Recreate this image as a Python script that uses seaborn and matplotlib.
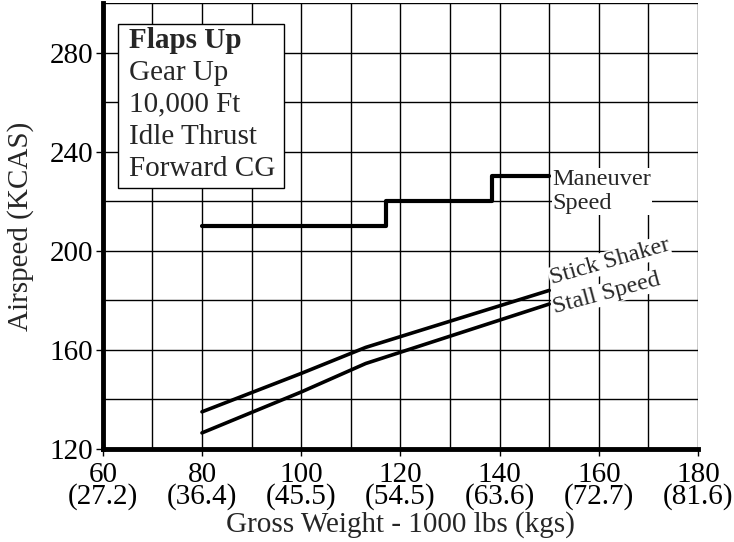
import numpy as np
import pandas as pd
import matplotlib
matplotlib.use("Agg")
from matplotlib import pyplot as plt
from matplotlib.patches import Rectangle
import seaborn as sns

# Chart data
maneuver_x = [80, 117, 138.5, 150]
maneuver_y = [210, 220, 230, 230]

shaker_x = [80, 100, 113, 150]
shaker_y = [135, 150.5, 161, 184]

stall_x = [80, 100, 113, 150]
stall_y = [126.5, 143, 154.5, 178.5]

x_ticks = [60, 80, 100, 120, 140, 160, 180]
x_kgs = ['27.2', '36.4', '45.5', '54.5', '63.6', '72.7', '81.6']
y_ticks = [120, 160, 200, 240, 280]

box_lines = ['Flaps Up', 'Gear Up', '10,000 Ft', 'Idle Thrust', 'Forward CG']

sns.set_theme(style='white')
plt.rcParams['font.family'] = ['Liberation Serif', 'DejaVu Serif']

FS = 21

fig = plt.figure(figsize=(7.34, 5.42), dpi=100)
ax = fig.add_axes([0.140, 0.1716, 0.811, 0.8229])

# grid
for gx in range(60, 181, 10):
    ax.axvline(gx, color='black', lw=1.0, zorder=1)
for gy in range(120, 301, 20):
    ax.axhline(gy, color='black', lw=1.0, zorder=1)

man = pd.DataFrame({'x': maneuver_x, 'y': maneuver_y})
sns.lineplot(data=man, x='x', y='y', ax=ax, color='black', lw=3,
             drawstyle='steps-post', sort=False, zorder=3)
shk = pd.DataFrame({'x': shaker_x, 'y': shaker_y})
sns.lineplot(data=shk, x='x', y='y', ax=ax, color='black', lw=2.6, sort=False, zorder=3)
stl = pd.DataFrame({'x': stall_x, 'y': stall_y})
sns.lineplot(data=stl, x='x', y='y', ax=ax, color='black', lw=2.6, sort=False, zorder=3)

ax.set_xlim(60, 180)
ax.set_ylim(120, 300)
ax.set_xticks(x_ticks)
ax.set_xticklabels([f'{v}\n({k})' for v, k in zip(x_ticks, x_kgs)], linespacing=0.76)
ax.set_yticks(y_ticks)
ax.tick_params(axis='both', labelsize=FS, colors='black', length=5, width=1,
               direction='out', pad=2, left=True, bottom=True)
ax.tick_params(axis='x', pad=4.5)

for side in ['top', 'right']:
    ax.spines[side].set_visible(False)
for side in ['left', 'bottom']:
    ax.spines[side].set_linewidth(3.5)
    ax.spines[side].set_color('black')
    ax.spines[side].set_zorder(4)

ax.set_xlabel('Gross Weight - 1000 lbs (kgs)', fontsize=FS, labelpad=0.5)
ax.set_ylabel('Airspeed (KCAS)', fontsize=FS, labelpad=11)

# condition box
ax.add_patch(Rectangle((0.025, 0.585), 0.279, 0.368, transform=ax.transAxes,
                       facecolor='white', edgecolor='black', lw=1.0, zorder=5))
base_y = [0.899, 0.827, 0.756, 0.684, 0.612]
for i, (line, by) in enumerate(zip(box_lines, base_y)):
    ax.text(0.044, by, line, transform=ax.transAxes, fontsize=FS,
            fontweight='bold' if i == 0 else 'normal', va='baseline', ha='left', zorder=6)

lbl_box = dict(facecolor='white', edgecolor='none', pad=0.5)
ax.text(150.7, 224.0, 'Maneuver\nSpeed', fontsize=17.5, va='center', ha='left',
        linespacing=1.2, bbox=lbl_box, zorder=6)
ax.text(150.5, 186.5, 'Stick Shaker', fontsize=17.5, rotation=16, rotation_mode='anchor',
        va='baseline', ha='left', bbox=lbl_box, zorder=6)
ax.text(151.2, 174.8, 'Stall Speed', fontsize=17.5, rotation=15, rotation_mode='anchor',
        va='baseline', ha='left', bbox=lbl_box, zorder=6)

fig.savefig('out.png', dpi=100, facecolor='white')
